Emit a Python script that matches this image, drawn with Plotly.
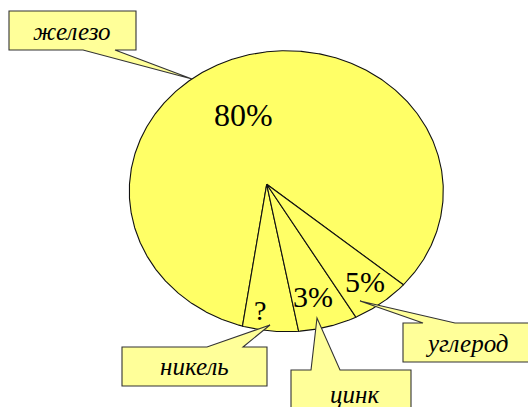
import numpy as np
import plotly.graph_objects as go

# ---- data ----
labels = ["железо", "никель", "цинк", "углерод"]
value_text = ["80%", "?", "3%", "5%"]
# share of the full turn each slice occupies as drawn
drawn_share = [82.4, 6.1, 6.0, 5.5]

# ---- geometry / styling (layout, not data) ----
W, H = 528, 407
cx, cy, rx, ry = 286.3, 191.2, 157.0, 140.5     # ellipse outline of the pie
ax_, ay_ = 266.7, 184.3                         # point where slices meet
start_deg = 53.67                               # rotation of first slice
PIE_FILL = "#FFFF66"
BOX_FILL = "#FFFF99"
SERIF = "Liberation Serif, Times New Roman, serif"


def edge_point(phi_deg):
    ph = np.radians(phi_deg)
    dx, dy = np.sin(ph), np.cos(ph)
    u, v = (ax_ - cx) / rx, (ay_ - cy) / ry
    a, b = dx / rx, dy / ry
    A = a * a + b * b
    B = u * a + v * b
    C = u * u + v * v - 1
    t = (-B + np.sqrt(B * B - A * C)) / A
    return ax_ + t * dx, ay_ + t * dy


fig = go.Figure()
angle = start_deg
for lab, share in zip(labels, drawn_share):
    span = share / 100 * 360
    phis = np.linspace(angle, angle + span, max(int(span * 2), 4))
    pts = [edge_point(p) for p in phis]
    xs = [ax_] + [p[0] for p in pts] + [ax_]
    ys = [ay_] + [p[1] for p in pts] + [ay_]
    fig.add_trace(go.Scatter(
        x=xs, y=ys, mode="lines", fill="toself", fillcolor=PIE_FILL,
        line=dict(color="#111111", width=1.1), hoverinfo="skip",
        name=lab, showlegend=False))
    angle += span

# value labels inside slices
value_pos = [(243, 115), (260, 310), (313, 296), (365, 281)]
value_size = [32, 28, 30, 30]
for txt, (x, y), s in zip(value_text, value_pos, value_size):
    fig.add_annotation(x=x, y=y, text=txt, showarrow=False,
                       font=dict(family=SERIF, size=s, color="black"))

# callout boxes with pointer tails: (x0, y0, x1, y1), tail base (xa, xb), tip, side
boxes = [
    ((9, 11, 136, 50), (83, 115), (192, 79), "bottom"),
    ((122, 347, 267, 386), (207, 243), (270, 325), "top"),
    ((291, 370, 411, 420), (311, 340), (317, 318), "top"),
    ((403, 323, 535, 362), (423, 455), (360, 301), "top"),
]
label_pos = [(72, 31), (194, 366), (354, 394), (466, 343)]

for (x0, y0, x1, y1), (xa, xb), (tx, ty), side in boxes:
    if side == "top":
        path = (f"M {x0},{y0} L {xa},{y0} L {tx},{ty} L {xb},{y0} L {x1},{y0} "
                f"L {x1},{y1} L {x0},{y1} Z")
    else:
        path = (f"M {x0},{y0} L {x1},{y0} L {x1},{y1} L {xb},{y1} L {tx},{ty} "
                f"L {xa},{y1} L {x0},{y1} Z")
    fig.add_shape(type="path", path=path, xref="x", yref="y",
                  fillcolor=BOX_FILL, line=dict(color="#333333", width=1.1),
                  layer="above")

for lab, (x, y) in zip(labels, label_pos):
    fig.add_annotation(x=x, y=y, text=lab, showarrow=False,
                       font=dict(family=SERIF, size=25,
                                 color="black", style="italic"))

fig.update_layout(
    width=W, height=H, margin=dict(l=0, r=0, t=0, b=0),
    paper_bgcolor="white", plot_bgcolor="white",
    font=dict(family=SERIF),
    xaxis=dict(range=[0, W], visible=False, fixedrange=True),
    yaxis=dict(range=[H, 0], visible=False, fixedrange=True),
    showlegend=False,
)

fig.write_html("out.html", config={"displayModeBar": False},
               post_script="document.body.style.margin='0';")
